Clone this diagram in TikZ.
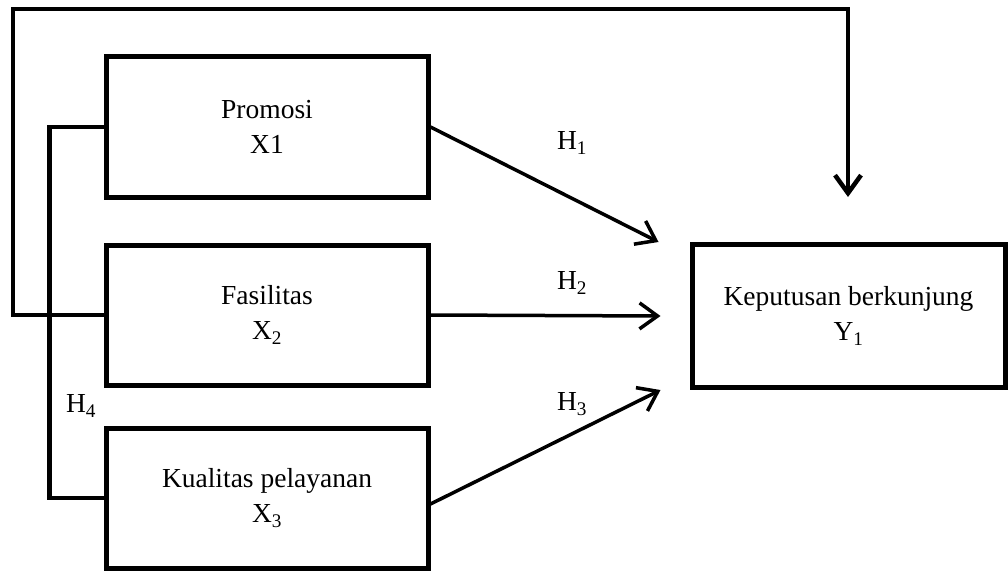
\documentclass[tikz,border=0pt]{standalone}
\usepackage{fontspec}
\setmainfont{Liberation Serif}
\usetikzlibrary{arrows.meta,calc}

\tikzset{
  varbox/.style={draw, line width=5pt, minimum width=322pt, minimum height=140pt,
                 align=center, inner sep=0pt, font=\fontsize{27.5}{35}\selectfont},
  hlabel/.style={font=\fontsize{27.5}{30}\selectfont, inner sep=0pt},
  hyparrow/.style={line width=3.5pt, -{Straight Barb[length=18pt,width=26pt]}},
  loopline/.style={line width=4.5pt},
}

\begin{document}
\begin{tikzpicture}[x=1pt, y=-1pt]
    % Fix the page to the size of the reference
    \useasboundingbox (0,0) rectangle (1008,572);

    % The three independent variables
    \node[varbox] (pro) at (267,127) {Promosi\\X1};
    \node[varbox] (fas) at (267,315) {Fasilitas\\X\textsubscript{2}};
    \node[varbox] (kua) at (267,498) {Kualitas pelayanan\\X\textsubscript{3}};

    % The dependent variable
    \node[varbox, minimum width=313pt, minimum height=143pt] (kep) at (848.5,316)
        {Keputusan berkunjung\\Y\textsubscript{1}};

    % Arrow tips stop short of the box
    \coordinate (t1) at ($(kep.north west)+(-31,0)$);
    \coordinate (t2) at ($(kep.west)+(-29,0)$);
    \coordinate (t3) at ($(kep.south west)+(-29,0)$);

    % Partial effects H1, H2, H3
    \draw[hyparrow] (pro.east) -- (t1);
    \draw[hyparrow] (fas.east) -- (t2);
    \draw[hyparrow] ($(kua.east)+(0,6)$) -- (t3);

    % Joint effect H4: outer loop down to the dependent variable
    \coordinate (topL) at (13,9);
    \coordinate (topR) at (848,9);
    \coordinate (tip) at (848,197);
    \draw[loopline, -{Straight Barb[length=18pt,width=26pt]}]
        (fas.west) -| (topL) -- (topR) -- (tip);

    % Inner bracket joining Promosi and Kualitas pelayanan
    \draw[loopline] (pro.west) -- ++(-54,0) |- (kua.west);

    % Hypothesis labels
    \node[hlabel] (h1) at (572,143) {H\textsubscript{1}};
    \node[hlabel] (h2) at (572,283) {H\textsubscript{2}};
    \node[hlabel] (h3) at (572,404) {H\textsubscript{3}};
    \node[hlabel] (h4) at (81,406) {H\textsubscript{4}};
\end{tikzpicture}
\end{document}
